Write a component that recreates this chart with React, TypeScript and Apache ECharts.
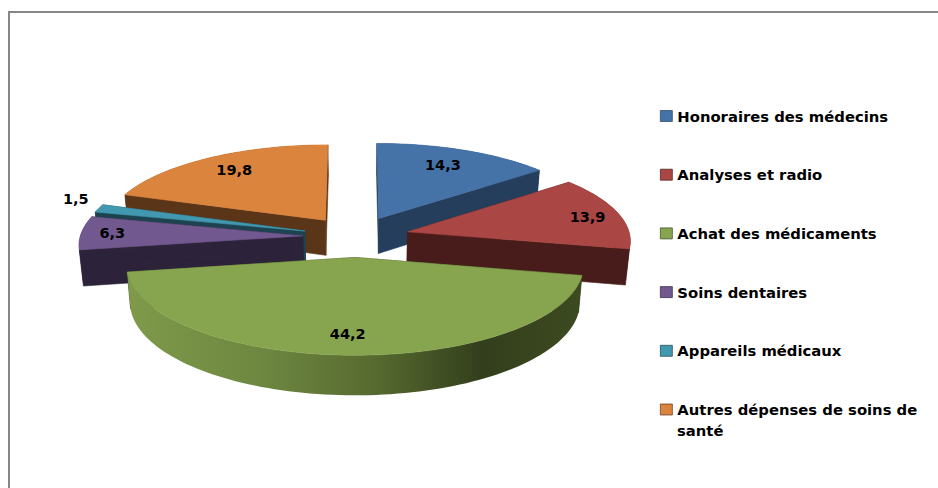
import React, { useEffect, useRef } from "react";
import * as echarts from "echarts";

const categories = [
  "Honoraires des médecins",
  "Analyses et radio",
  "Achat des médicaments",
  "Soins dentaires",
  "Appareils médicaux",
  "Autres dépenses de soins de santé",
];
const values = [14.3, 13.9, 44.2, 6.3, 1.5, 19.8];
const topColors = ["#4572A7", "#AA4643", "#87A44F", "#71588F", "#4198AF", "#DB843D"];
const wallColors = ["#253E5B", "#471C1A", "#3A4820", "#2C2239", "#1D4350", "#5B3517"];
const paintOrder = [2, 6, 7, 5, 4, 3];
const labelRadius = [0.76, 0.85, 0.8, 0.86, 1.15, 0.79];
const labelTurn = [-1, 1, 1, 0, 4, 1];

const FONT = '"DejaVu Sans", sans-serif';
const total = values.reduce((a, b) => a + b, 0);
const startTurn = values.map((_, i) => values.slice(0, i).reduce((a, b) => a + b, 0) / total);

// camera of the tilted pie
const CX = 356, CY = 236.6, RX = 222.5, RY = 85, PERSP = 0.09, EXPLODE = 0.24, DEPTH = 35.6, SHRINK = 0.985;

function top(X: number, Y: number) {
  const s = 1 / (1 + PERSP * Y);
  return [CX + RX * X * s, CY - RY * Y * s, s];
}
function bottom(X: number, Y: number) {
  const [x, y, s] = top(X, Y);
  return [CX + (x - CX) * SHRINK, y + DEPTH * s];
}

function renderSlice(i: number) {
  return (_params: any, api: any) => {
    const value = api.value(0);
    const a0 = startTurn[i] * Math.PI * 2;
    const a1 = a0 + (value / total) * Math.PI * 2;
    const mid = (a0 + a1) / 2;
    const ox = EXPLODE * Math.sin(mid);
    const oy = EXPLODE * Math.cos(mid);
    const steps = Math.max(4, Math.ceil((a1 - a0) / 0.03));
    const rim: number[][] = [];
    for (let k = 0; k <= steps; k++) {
      const a = a0 + ((a1 - a0) * k) / steps;
      rim.push([ox + Math.sin(a), oy + Math.cos(a)]);
    }
    const pick = (p: number[]) => p.slice(0, 2);
    const topRim = rim.map((p) => pick(top(p[0], p[1])));
    const botRim = rim.map((p) => bottom(p[0], p[1]));
    const apexT = pick(top(ox, oy));
    const apexB = bottom(ox, oy);
    const wall = wallColors[i];
    const rimFill =
      i === 2
        ? new echarts.graphic.LinearGradient(0, 0, 1, 0, [
            { offset: 0, color: "#7F9A4A" },
            { offset: 0.3, color: "#6D8740" },
            { offset: 0.55, color: "#56692F" },
            { offset: 0.78, color: "#333F1C" },
            { offset: 1, color: "#3C4A20" },
          ])
        : wall;
    const poly = (points: number[][], fill: any, stroke?: string) => ({
      type: "polygon",
      shape: { points },
      style: { fill, stroke: stroke || "none", lineWidth: stroke ? 0.6 : 0 },
    });
    const lr = labelRadius[i];
    const la = mid + (labelTurn[i] * Math.PI) / 180;
    const lp = top(ox + lr * Math.sin(la), oy + lr * Math.cos(la));
    return {
      type: "group",
      children: [
        poly([apexT, topRim[0], botRim[0], apexB], wall, wall),
        poly([apexT, topRim[steps], botRim[steps], apexB], wall, wall),
        poly([...topRim, ...botRim.slice().reverse()], rimFill),
        poly([apexT, ...topRim], topColors[i], topColors[i]),
        {
          type: "text",
          x: lp[0],
          y: lp[1],
          style: {
            text: String(value).replace(".", ","),
            fill: "#000000",
            fontFamily: FONT,
            fontWeight: 700,
            fontSize: 14.5,
            align: "center",
            verticalAlign: "middle",
          },
        },
      ],
    };
  };
}

export default function App() {
  const ref = useRef<HTMLDivElement>(null);
  useEffect(() => {
    const chart = echarts.init(ref.current!, undefined, { renderer: "svg" });
    chart.setOption({
      animation: false,
      backgroundColor: "#ffffff",
      legend: {
        orient: "vertical",
        left: 660,
        top: 105.5,
        height: 370,
        padding: 0,
        itemWidth: 12,
        itemHeight: 11,
        itemGap: 37.7,
        icon: "rect",
        selectedMode: false,
        data: categories.map((name, i) => ({
          name,
          itemStyle: { borderColor: wallColors[i], borderWidth: 0.7 },
        })),
        formatter: (name: string) =>
          name === categories[5] ? "Autres dépenses de soins de" : name,
        textStyle: {
          fontFamily: FONT,
          fontWeight: 700,
          fontSize: 14.8,
          lineHeight: 21,
          color: "#000000",
        },
      },
      graphic: {
        elements: [
          { type: "line", shape: { x1: 8, y1: 12, x2: 938, y2: 12 }, style: { stroke: "#868686", lineWidth: 2 } },
          { type: "line", shape: { x1: 9, y1: 11, x2: 9, y2: 488 }, style: { stroke: "#868686", lineWidth: 2 } },
          {
            type: "text",
            x: 677,
            y: 430,
            style: {
              text: "santé",
              fill: "#000000",
              fontFamily: FONT,
              fontWeight: 700,
              fontSize: 14.8,
              align: "left",
              verticalAlign: "middle",
            },
          },
        ],
      },
      series: categories.map((name, i) => ({
        type: "custom",
        name,
        coordinateSystem: "none",
        silent: true,
        z: paintOrder[i],
        itemStyle: { color: topColors[i] },
        data: [[values[i]]],
        renderItem: renderSlice(i),
      })),
    });
    return () => chart.dispose();
  }, []);
  return <div ref={ref} style={{ position: "fixed", left: 0, top: 0, width: 938, height: 488 }} />;
}
